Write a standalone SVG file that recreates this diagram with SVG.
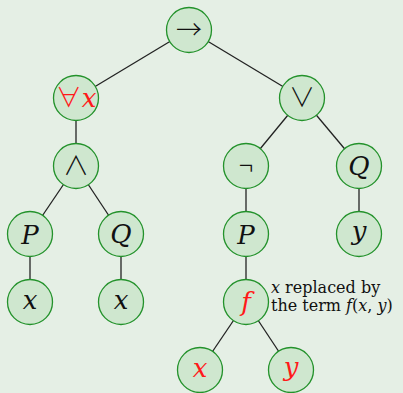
<svg xmlns="http://www.w3.org/2000/svg" width="403" height="393" viewBox="0 0 403 393">
<style>
.n{fill:#cfe7cf;stroke:#23922b;stroke-width:1.3}
.e{stroke:#222;stroke-width:1.3;fill:none}
.t{font-family:'DejaVu Serif',serif;font-size:26px;text-anchor:middle;fill:#111}
.i{font-style:italic}
.r{fill:#ff1a1a}
.s{font-family:'Noto Sans CJK JP','DejaVu Sans',sans-serif;font-weight:300;font-size:26px}
.l{font-family:'DejaVu Serif',serif;font-size:16px;fill:#111}
</style>
<rect width="403" height="393" fill="#e5efe5"/>
<g id="edges">
<line class="e" x1="189" y1="30" x2="76" y2="98"/>
<line class="e" x1="189" y1="30" x2="302" y2="98"/>
<line class="e" x1="76" y1="98" x2="76" y2="166"/>
<line class="e" x1="76" y1="166" x2="30" y2="234"/>
<line class="e" x1="76" y1="166" x2="121" y2="234"/>
<line class="e" x1="30" y1="234" x2="30" y2="302"/>
<line class="e" x1="121" y1="234" x2="121" y2="302"/>
<line class="e" x1="302" y1="98" x2="246" y2="166"/>
<line class="e" x1="302" y1="98" x2="359" y2="166"/>
<line class="e" x1="246" y1="166" x2="246" y2="234"/>
<line class="e" x1="359" y1="166" x2="359" y2="234"/>
<line class="e" x1="246" y1="234" x2="246" y2="302"/>
<line class="e" x1="246" y1="302" x2="200" y2="370"/>
<line class="e" x1="246" y1="302" x2="291" y2="370"/>
</g>
<g id="root"><circle class="n" cx="189" cy="30" r="22.5"/><text class="t s" x="189" y="39">→</text></g>
<g id="forall"><circle class="n" cx="76" cy="98" r="22.5"/><text class="t r" x="76" y="107" font-size="24"><tspan class="s" font-size="24">∀</tspan><tspan class="i">x</tspan></text></g>
<g id="or"><circle class="n" cx="302" cy="98" r="22.5"/><text class="t s" x="302" y="107">∨</text></g>
<g id="and"><circle class="n" cx="76" cy="166" r="22.5"/><text class="t s" x="76" y="175">∧</text></g>
<g id="not"><circle class="n" cx="246" cy="166" r="22.5"/><text class="t s" x="246" y="175">¬</text></g>
<g id="q1"><circle class="n" cx="359" cy="166" r="22.5"/><text class="t i" x="359" y="175">Q</text></g>
<g id="p1"><circle class="n" cx="30" cy="234" r="22.5"/><text class="t i" x="30" y="244">P</text></g>
<g id="q2"><circle class="n" cx="121" cy="234" r="22.5"/><text class="t i" x="121" y="243">Q</text></g>
<g id="p2"><circle class="n" cx="246" cy="234" r="22.5"/><text class="t i" x="246" y="244">P</text></g>
<g id="y1"><circle class="n" cx="359" cy="234" r="22.5"/><text class="t i" x="359" y="240">y</text></g>
<g id="x1"><circle class="n" cx="30" cy="302" r="22.5"/><text class="t i" x="30" y="309">x</text></g>
<g id="x2"><circle class="n" cx="121" cy="302" r="22.5"/><text class="t i" x="121" y="309">x</text></g>
<g id="f"><circle class="n" cx="246" cy="302" r="22.5"/><text class="t i r" x="246" y="311">f</text></g>
<g id="x3"><circle class="n" cx="200" cy="370" r="22.5"/><text class="t i r" x="200" y="377">x</text></g>
<g id="y2"><circle class="n" cx="291" cy="370" r="22.5"/><text class="t i r" x="291" y="376">y</text></g>
<g id="label">
<text class="l" x="271" y="293"><tspan font-style="italic">x</tspan> replaced by</text>
<text class="l" x="271" y="311">the term <tspan font-style="italic">f</tspan>(<tspan font-style="italic">x</tspan>, <tspan font-style="italic">y</tspan>)</text>
</g>
</svg>
